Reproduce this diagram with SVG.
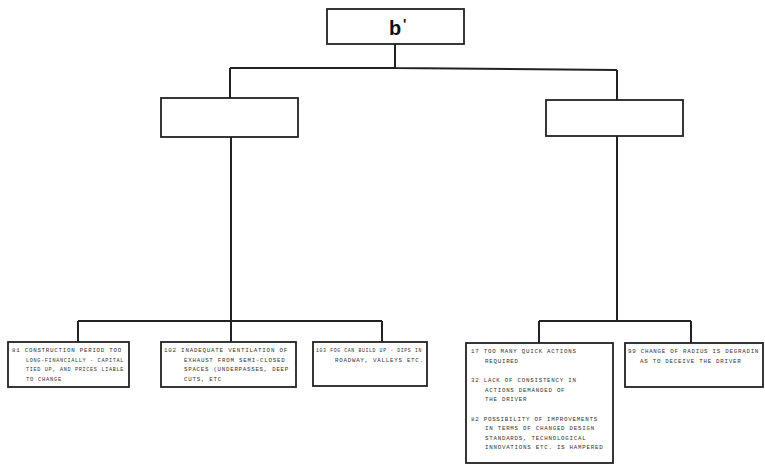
<svg xmlns="http://www.w3.org/2000/svg" width="765" height="465" viewBox="0 0 765 465">
<style>
.box{fill:#fff;stroke:#222;stroke-width:1.8}
.ln{fill:none;stroke:#222;stroke-width:2}
.t{font-family:"Liberation Mono",monospace;font-size:5.8px;letter-spacing:0.75px;fill:#333}
.big{font-family:"Liberation Sans",Arial,sans-serif;font-weight:bold;fill:#111}
</style>
<rect width="765" height="465" fill="#fff"/>
<g id="connectors">
<path class="ln" d="M395,44 V68 M230,68 H395 L617,70 M230,68 V98 M617,70 V100"/>
<path class="ln" d="M231,137 V321 M78,321 H382 M78,321 V342 M231,321 V342 M382,321 V342"/>
<path class="ln" d="M617,136 V321 M539,321 H691 M539,321 V343 M691,321 V343"/>
</g>
<g id="root">
<rect class="box" x="327" y="9" width="137" height="35"/>
<text class="big" x="389" y="35" font-size="20">b</text>
<text class="big" x="403" y="29" font-size="14">'</text>
</g>
<g id="mid-left"><rect class="box" x="161" y="98" width="137" height="39"/></g>
<g id="mid-right"><rect class="box" x="546" y="100" width="137" height="36"/></g>
<g id="n81">
<rect class="box" x="8" y="342" width="121" height="45"/>
<text class="t" x="12" y="352" textLength="110" lengthAdjust="spacingAndGlyphs">81 CONSTRUCTION PERIOD TOO</text>
<text class="t" x="26" y="361.5" textLength="98" lengthAdjust="spacingAndGlyphs">LONG-FINANCIALLY - CAPITAL</text>
<text class="t" x="26" y="371" textLength="98" lengthAdjust="spacingAndGlyphs">TIED UP, AND PRICES LIABLE</text>
<text class="t" x="26" y="380.5" textLength="36" lengthAdjust="spacingAndGlyphs">TO CHANGE</text>
</g>
<g id="n102">
<rect class="box" x="161" y="342" width="135" height="45"/>
<text class="t" x="164" y="352" textLength="124" lengthAdjust="spacingAndGlyphs">102 INADEQUATE VENTILATION OF</text>
<text class="t" x="184" y="361.5">EXHAUST FROM SEMI-CLOSED</text>
<text class="t" x="184" y="371" textLength="105" lengthAdjust="spacingAndGlyphs">SPACES (UNDERPASSES, DEEP</text>
<text class="t" x="184" y="380.5">CUTS, ETC</text>
</g>
<g id="n103">
<rect class="box" x="313" y="342" width="114" height="44"/>
<text class="t" x="316" y="352" textLength="106" lengthAdjust="spacingAndGlyphs">103 FOG CAN BUILD UP - DIPS IN</text>
<text class="t" x="335" y="361.5">ROADWAY, VALLEYS ETC.</text>
</g>
<g id="n17">
<rect class="box" x="466" y="343" width="147" height="120"/>
<text class="t" x="471" y="353">17 TOO MANY QUICK ACTIONS</text>
<text class="t" x="485" y="362.5">REQUIRED</text>
<text class="t" x="471" y="382">32 LACK OF CONSISTENCY IN</text>
<text class="t" x="485" y="391.5">ACTIONS DEMANDED OF</text>
<text class="t" x="485" y="401">THE DRIVER</text>
<text class="t" x="471" y="420.5">82 POSSIBILITY OF IMPROVEMENTS</text>
<text class="t" x="485" y="430">IN TERMS OF CHANGED DESIGN</text>
<text class="t" x="485" y="439.5">STANDARDS, TECHNOLOGICAL</text>
<text class="t" x="485" y="449">INNOVATIONS ETC. IS HAMPERED</text>
</g>
<g id="n99">
<rect class="box" x="625" y="343" width="138" height="44"/>
<text class="t" x="628" y="353">99 CHANGE OF RADIUS IS DEGRADIN</text>
<text class="t" x="640" y="362.5">AS TO DECEIVE THE DRIVER</text>
</g>
</svg>
